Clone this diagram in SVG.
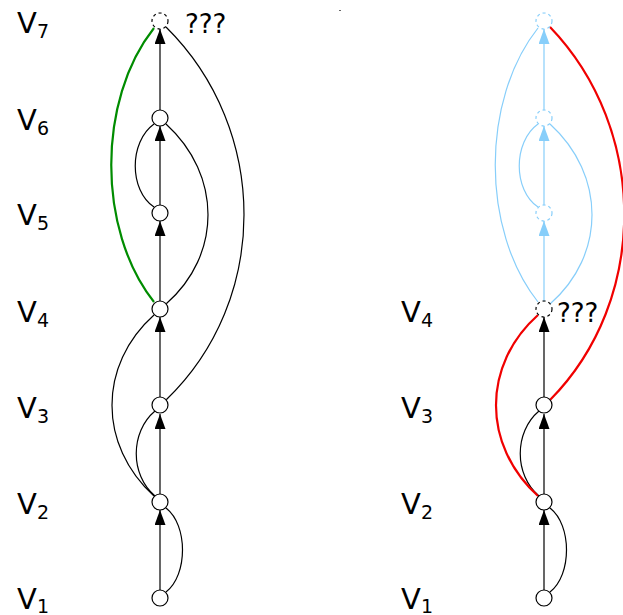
<svg xmlns="http://www.w3.org/2000/svg" width="623" height="615" viewBox="0 0 623 615">
<style>
.lbl{font-family:"DejaVu Sans",sans-serif;font-size:29px;fill:#000}
.sub{font-family:"DejaVu Sans",sans-serif;font-size:19px;fill:#000}
.q{font-family:"DejaVu Sans",sans-serif;font-size:26px;fill:#000}
.n{fill:#fff;stroke:#000;stroke-width:1.2}
.nd{fill:#fff;stroke:#000;stroke-width:1.2;stroke-dasharray:3 3}
.nb{fill:#fff;stroke:#87cefa;stroke-width:1.2;stroke-dasharray:3 3}
.e{fill:none;stroke:#000;stroke-width:1.2}
.eb{fill:none;stroke:#87cefa;stroke-width:1.2}
.eg{fill:none;stroke:#008c00;stroke-width:2.2}
.er{fill:none;stroke:#f00000;stroke-width:2.2}
.a{marker-end:url(#ah)}
.ab{marker-end:url(#ahb)}
</style>
<defs>
<marker id="ah" markerUnits="userSpaceOnUse" markerWidth="15" markerHeight="11" refX="15" refY="5.5" orient="auto"><path d="M0,0 L15,5.5 L0,11 z" fill="#000"/></marker>
<marker id="ahb" markerUnits="userSpaceOnUse" markerWidth="15" markerHeight="11" refX="15" refY="5.5" orient="auto"><path d="M0,0 L15,5.5 L0,11 z" fill="#87cefa"/></marker>
</defs>
<rect width="623" height="615" fill="#fff"/>
<rect x="339" y="10" width="2" height="1" fill="#666"/>
<g id="labels">
<text class="lbl" x="17" y="33">V</text><text class="sub" x="37" y="38">7</text>
<text class="lbl" x="17" y="130">V</text><text class="sub" x="37" y="135">6</text>
<text class="lbl" x="17" y="225">V</text><text class="sub" x="37" y="230">5</text>
<text class="lbl" x="17" y="322">V</text><text class="sub" x="37" y="327">4</text>
<text class="lbl" x="17" y="418">V</text><text class="sub" x="37" y="423">3</text>
<text class="lbl" x="17" y="514">V</text><text class="sub" x="37" y="519">2</text>
<text class="lbl" x="17" y="609">V</text><text class="sub" x="37" y="613">1</text>
<text class="lbl" x="401" y="322">V</text><text class="sub" x="421" y="327">4</text>
<text class="lbl" x="401" y="418">V</text><text class="sub" x="421" y="423">3</text>
<text class="lbl" x="401" y="514">V</text><text class="sub" x="421" y="519">2</text>
<text class="lbl" x="401" y="609">V</text><text class="sub" x="421" y="613">1</text>
<text class="q" x="185" y="33">???</text>
<text class="q" x="557" y="322">???</text>
</g>
<g id="connectors">
<line class="e a" x1="160" y1="590" x2="160" y2="510"/>
<path class="e" d="M166,592 C188,575 188,525 166,508"/>
<line class="e a" x1="160" y1="494" x2="160" y2="414"/>
<path class="e" d="M155,496 C130,475 130,432 155,411"/>
<path class="e" d="M154,496 C98,445 98,365 154,315"/>
<line class="e a" x1="160" y1="397" x2="160" y2="317"/>
<path class="e" d="M166,400 C270,300 270,130 166,27"/>
<line class="e a" x1="160" y1="301" x2="160" y2="221"/>
<path class="e" d="M166,304 C222,255 222,175 166,124"/>
<line class="e a" x1="160" y1="205" x2="160" y2="126"/>
<path class="e" d="M154,207 C129,190 129,142 154,124"/>
<line class="e a" x1="160" y1="110" x2="160" y2="29"/>
<path class="eg" d="M154,302 C97,230 97,100 154,28"/>
<line class="e a" x1="544" y1="590" x2="544" y2="510"/>
<path class="e" d="M550,592 C572,575 572,525 550,508"/>
<line class="e a" x1="544" y1="494" x2="544" y2="414"/>
<path class="e" d="M539,496 C514,475 514,432 539,411"/>
<path class="er" d="M538,496 C482,445 482,365 538,315"/>
<line class="e a" x1="544" y1="397" x2="544" y2="317"/>
<path class="er" d="M550,400 C649,300 649,130 550,27"/>
<line class="eb ab" x1="544" y1="301" x2="544" y2="221"/>
<path class="eb" d="M550,304 C606,255 606,175 550,124"/>
<line class="eb ab" x1="544" y1="205" x2="544" y2="126"/>
<path class="eb" d="M538,207 C513,190 513,142 538,124"/>
<line class="eb ab" x1="544" y1="110" x2="544" y2="29"/>
<path class="eb" d="M538,302 C481,230 481,100 538,28"/>
</g>
<g id="L1"><circle class="n" cx="160" cy="598" r="8"/></g>
<g id="L2"><circle class="n" cx="160" cy="502" r="8"/></g>
<g id="L3"><circle class="n" cx="160" cy="405" r="8"/></g>
<g id="L4"><circle class="n" cx="160" cy="309" r="8"/></g>
<g id="L5"><circle class="n" cx="160" cy="213" r="8"/></g>
<g id="L6"><circle class="n" cx="160" cy="118" r="8"/></g>
<g id="L7"><circle class="nd" cx="160" cy="21" r="8"/></g>
<g id="R1"><circle class="n" cx="544" cy="598" r="8"/></g>
<g id="R2"><circle class="n" cx="544" cy="502" r="8"/></g>
<g id="R3"><circle class="n" cx="544" cy="405" r="8"/></g>
<g id="R4"><circle class="nd" cx="544" cy="309" r="8"/></g>
<g id="R5"><circle class="nb" cx="544" cy="213" r="8"/></g>
<g id="R6"><circle class="nb" cx="544" cy="118" r="8"/></g>
<g id="R7"><circle class="nb" cx="544" cy="21" r="8"/></g>
</svg>
